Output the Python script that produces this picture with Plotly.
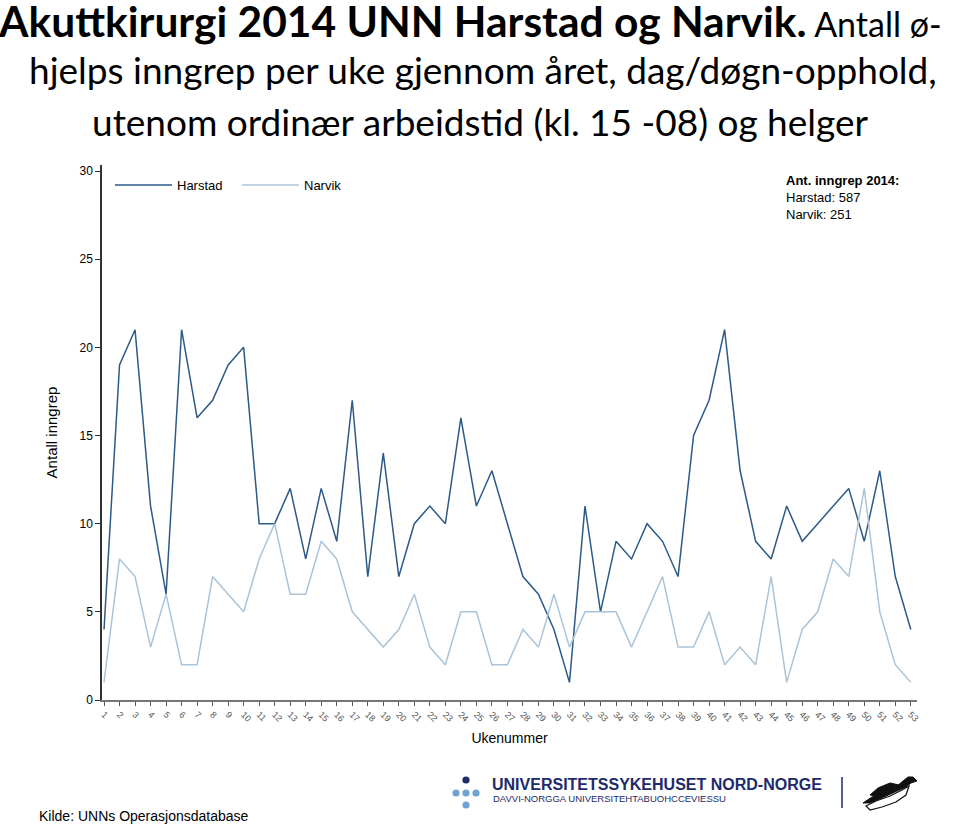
import plotly.graph_objects as go

# ---------------- data ----------------
weeks = list(range(1, 54))
week_labels = [str(w) for w in weeks]
harstad = [4, 19, 21, 11, 6, 21, 16, 17, 19, 20, 10, 10, 12, 8, 12, 9, 17, 7, 14, 7,
           10, 11, 10, 16, 11, 13, 10, 7, 6, 4, 1, 11, 5, 9, 8, 10, 9, 7, 15, 17,
           21, 13, 9, 8, 11, 9, 10, 11, 12, 9, 13, 7, 4]
narvik = [1, 8, 7, 3, 6, 2, 2, 7, 6, 5, 8, 10, 6, 6, 9, 8, 5, 4, 3, 4,
          6, 3, 2, 5, 5, 2, 2, 4, 3, 6, 3, 5, 5, 5, 3, 5, 7, 3, 3, 5,
          2, 3, 2, 7, 1, 4, 5, 8, 7, 12, 5, 2, 1]
series_names = ["Harstad", "Narvik"]
y_ticks = [0, 5, 10, 15, 20, 25, 30]
total_harstad = 587
total_narvik = 251

# ---------------- layout helpers ----------------
W, H = 960, 826
ML, MR, MT, MB = 102, 43, 165, 126
PW = W - ML - MR
PH = H - MT - MB


def px(x):
    return (x - ML) / PW


def py(y):
    return (H - MB - y) / PH


HARSTAD_COLOR = "#2c5a88"
NARVIK_COLOR = "#aac4d9"
NAVY = "#1d2a6b"
TITLE_FONT = "Lato, Liberation Sans, Arial, sans-serif"
SANS = "Liberation Sans, Arial, sans-serif"

fig = go.Figure()
fig.add_trace(go.Scatter(x=weeks, y=harstad, mode="lines", name=series_names[0],
                         line=dict(color=HARSTAD_COLOR, width=1.5)))
fig.add_trace(go.Scatter(x=weeks, y=narvik, mode="lines", name=series_names[1],
                         line=dict(color=NARVIK_COLOR, width=1.5)))

annotations = [
    dict(text='<span style="font-size:42.5px"><b>Akuttkirurgi 2014 UNN Harstad og Narvik.</b></span> Antall ø-',
         x=px(-4), y=py(-7), xanchor="left", yanchor="top",
         font=dict(family=TITLE_FONT, size=34, color="#000")),
    dict(text="hjelps inngrep per uke gjennom året, dag/døgn-opphold,",
         x=px(483), y=py(45), xanchor="center", yanchor="top",
         font=dict(family=TITLE_FONT, size=37, color="#000")),
    dict(text="utenom ordinær arbeidstid (kl. 15 -08) og helger",
         x=px(480), y=py(97), xanchor="center", yanchor="top",
         font=dict(family=TITLE_FONT, size=37, color="#000")),
    dict(text=f"<b>Ant. inngrep 2014:</b><br>Harstad: {total_harstad}<br>Narvik: {total_narvik}",
         x=px(784), y=py(171), xanchor="left", yanchor="top", align="left",
         font=dict(family=SANS, size=13, color="#000")),
    dict(text="Kilde: UNNs Operasjonsdatabase",
         x=px(37), y=py(806), xanchor="left", yanchor="top",
         font=dict(family=SANS, size=14, color="#000")),
    dict(text="<b>UNIVERSITETSSYKEHUSET NORD-NORGE</b>",
         x=px(490), y=py(774), xanchor="left", yanchor="top",
         font=dict(family=SANS, size=16, color=NAVY)),
    dict(text="DAVVI-NORGGA UNIVERSITEHTABUOHCCEVIESSU",
         x=px(491), y=py(791), xanchor="left", yanchor="top",
         font=dict(family=SANS, size=9.5, color=NAVY)),
]
for a in annotations:
    a.update(xref="paper", yref="paper", showarrow=False)

shapes = []
# logo dots
dots = [(466, 780, NAVY), (456, 793, "#6fa3d3"), (466, 793, "#6fa3d3"),
        (476, 793, "#6fa3d3"), (466, 805, "#6fa3d3")]
for cx, cy, c in dots:
    r = 3.6
    shapes.append(dict(type="circle", xref="paper", yref="paper",
                       x0=px(cx - r), x1=px(cx + r), y0=py(cy + r), y1=py(cy - r),
                       fillcolor=c, line=dict(width=0)))
# separator line
shapes.append(dict(type="line", xref="paper", yref="paper",
                   x0=px(842), x1=px(842), y0=py(777), y1=py(808),
                   line=dict(color=NAVY, width=1.5)))


def path_from(points):
    return "M " + " L ".join(f"{px(x):.4f},{py(y):.4f}" for x, y in points) + " Z"


bird_belly = [(866, 806), (876, 801), (890, 796), (902, 790), (909, 786), (906, 795),
              (896, 802), (882, 807), (870, 810)]
bird_back = [(863, 803), (872, 797), (884, 792), (896, 787), (903, 781), (908, 777),
             (913, 777), (917, 781), (911, 783), (906, 787), (897, 791), (884, 797),
             (870, 803)]
bird_wing = [(870, 795), (878, 788), (890, 783), (899, 785), (890, 790), (877, 796)]
shapes.append(dict(type="path", xref="paper", yref="paper", path=path_from(bird_belly),
                   fillcolor="white", line=dict(color="#111", width=1.2)))
shapes.append(dict(type="path", xref="paper", yref="paper", path=path_from(bird_back),
                   fillcolor="#111", line=dict(color="#111", width=1)))
shapes.append(dict(type="path", xref="paper", yref="paper", path=path_from(bird_wing),
                   fillcolor="#111", line=dict(color="#111", width=1)))

fig.update_layout(
    width=W, height=H,
    margin=dict(l=ML, r=MR, t=MT, b=MB, pad=0),
    paper_bgcolor="white", plot_bgcolor="white",
    font=dict(family=SANS, color="#000"),
    showlegend=True,
    legend=dict(orientation="h", x=px(110), y=py(170), xanchor="left", yanchor="top",
                font=dict(family=SANS, size=13, color="#000"),
                bgcolor="rgba(0,0,0,0)", itemwidth=57, entrywidth=55,
                traceorder="normal"),
    xaxis=dict(range=[0.87, 53.4], tickmode="array", tickvals=weeks, ticktext=week_labels,
               tickangle=45, tickfont=dict(family=SANS, size=9, color="#555"),
               ticks="outside", ticklen=4, tickcolor="#555", showgrid=False, zeroline=False,
               showline=True, linecolor="#777", linewidth=1.5,
               title=dict(text="Ukenummer", font=dict(family=SANS, size=14, color="#000"),
                          standoff=10)),
    yaxis=dict(range=[0, 30.34], tickmode="array", tickvals=y_ticks,
               tickfont=dict(family=SANS, size=12, color="#000"),
               ticks="outside", ticklen=5, tickcolor="#333", showgrid=False, zeroline=False,
               showline=True, linecolor="#333", linewidth=1.5,
               title=dict(text="Antall inngrep", font=dict(family=SANS, size=15, color="#000"),
                          standoff=18)),
    annotations=annotations,
    shapes=shapes,
)

fig.write_html("out.html", config={"displayModeBar": False},
               post_script="document.body.style.margin='0';document.body.style.padding='0';")
